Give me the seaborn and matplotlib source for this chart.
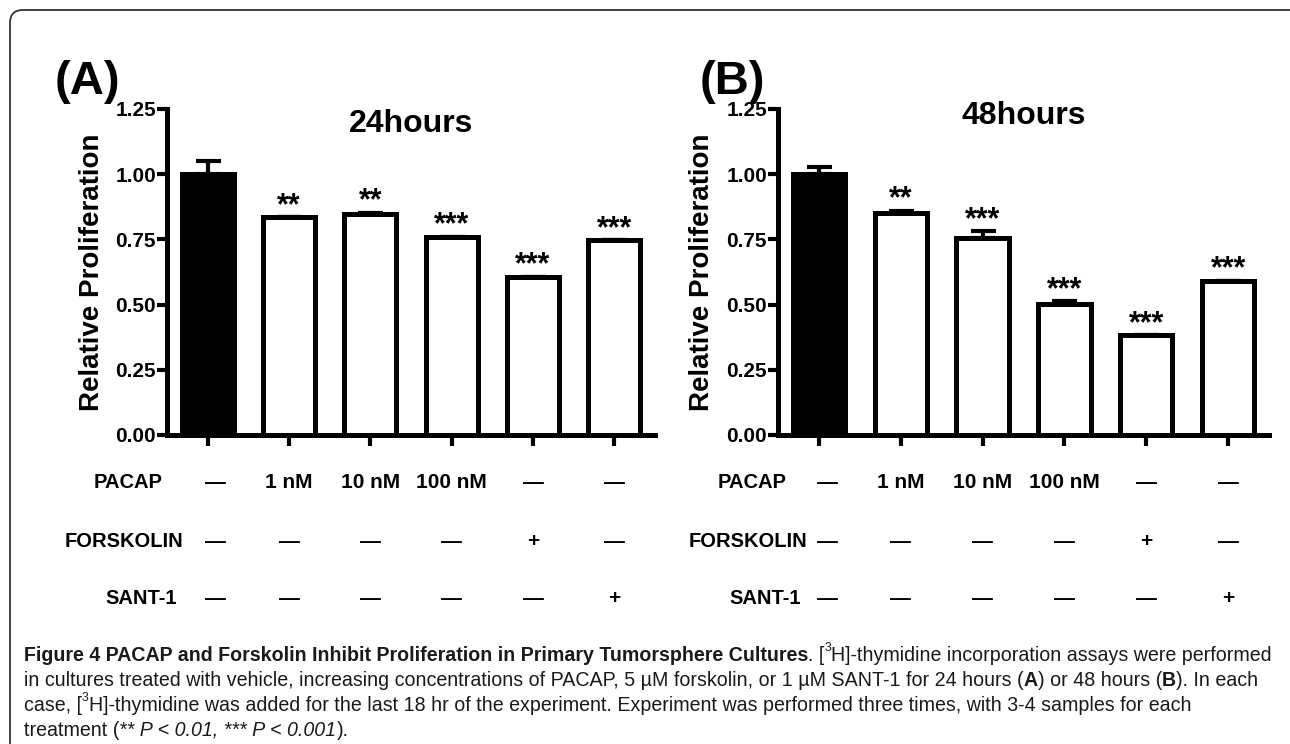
import numpy as np
import pandas as pd
import seaborn as sns
import matplotlib.pyplot as plt
from matplotlib.patches import FancyBboxPatch

# data
treatments = ["Vehicle", "PACAP 1 nM", "PACAP 10 nM", "PACAP 100 nM", "Forskolin", "SANT-1"]
prolif_24h = [1.00, 0.835, 0.847, 0.760, 0.607, 0.748]
err_24h = [0.050, 0.0, 0.005, 0.0, 0.0, 0.0]
stars_24h = ["", "**", "**", "***", "***", "***"]
prolif_48h = [1.00, 0.850, 0.755, 0.502, 0.382, 0.592]
err_48h = [0.027, 0.010, 0.027, 0.010, 0.0, 0.0]
stars_48h = ["", "**", "***", "***", "***", "***"]

row_names = ["PACAP", "FORSKOLIN", "SANT-1"]
pacap_row = ["\u2014", "1 nM", "10 nM", "100 nM", "\u2014", "\u2014"]
forskolin_row = ["\u2014", "\u2014", "\u2014", "\u2014", "+", "\u2014"]
sant_row = ["\u2014", "\u2014", "\u2014", "\u2014", "\u2014", "+"]

titles = ["24hours", "48hours"]
letters = ["(A)", "(B)"]
yticks = [0, 0.25, 0.5, 0.75, 1.0, 1.25]

caption = [
    [("Figure 4 PACAP and Forskolin Inhibit Proliferation in Primary Tumorsphere Cultures", "bold"),
     (". [", "reg"), ("3", "sup"), ("H]-thymidine incorporation assays were performed", "reg")],
    [("in cultures treated with vehicle, increasing concentrations of PACAP, 5 \u00b5M forskolin, or 1 \u00b5M SANT-1 for 24 hours (", "reg"),
     ("A", "bold"), (") or 48 hours (", "reg"), ("B", "bold"), ("). In each", "reg")],
    [("case, [", "reg"), ("3", "sup"),
     ("H]-thymidine was added for the last 18 hr of the experiment. Experiment was performed three times, with 3-4 samples for each", "reg")],
    [("treatment (", "reg"), ("** P < 0.01, *** P < 0.001", "italic"), (").", "reg")],
]

sns.set_theme(style="white")
plt.rcParams["font.family"] = ["Liberation Sans", "DejaVu Sans"]
plt.rcParams["text.color"] = "black"
plt.rcParams["axes.labelcolor"] = "black"

W, H = 1290, 744
fig = plt.figure(figsize=(W / 100, H / 100), dpi=100)

# frame around the figure (right side runs off the picture)
frame = FancyBboxPatch((0.10, -0.6), 12.96, 7.94, boxstyle="round,pad=0,rounding_size=0.13",
                       transform=fig.dpi_scale_trans, facecolor="none", edgecolor="#333333", linewidth=1.3)
fig.add_artist(frame)

ax_top = 109
ax_bot = 435
axA = fig.add_axes([167 / W, 1 - ax_bot / H, 488 / W, (ax_bot - ax_top) / H])
axB = fig.add_axes([778 / W, 1 - ax_bot / H, 491 / W, (ax_bot - ax_top) / H])

panels = [(axA, prolif_24h, err_24h, stars_24h), (axB, prolif_48h, err_48h, stars_48h)]
palette = {t: ("black" if i == 0 else "white") for i, t in enumerate(treatments)}
label_shift = [-0.08, 0.08]
title_y = [0.955, 0.98]

for k, (ax, vals, errs, stars) in enumerate(panels):
    df = pd.DataFrame({"treatment": treatments, "value": vals})
    sns.barplot(data=df, x="treatment", y="value", hue="treatment", palette=palette,
                edgecolor="black", linewidth=3.6, width=0.64, legend=False, ax=ax)
    ax.errorbar(np.arange(len(vals)), vals, yerr=[np.zeros(len(errs)), errs], fmt="none",
                ecolor="black", elinewidth=3, capsize=9, capthick=3)
    for i, (v, e, s) in enumerate(zip(vals, errs, stars)):
        if s:
            ax.text(i, v + e + 0.012, s, ha="center", va="baseline", fontsize=22,
                    fontweight="bold")

    ax.set_xlim(-0.5, 5.5)
    ax.set_ylim(0, 1.25)
    ax.set_yticks(yticks)
    ax.set_yticklabels([f"{t:.2f}" for t in yticks])
    ax.set_xticks(range(len(treatments)))
    ax.set_xticklabels([])
    ax.set_xlabel("")
    ax.set_ylabel("Relative Proliferation", fontsize=20, fontweight="bold")
    ax.yaxis.set_label_coords(-0.128, 0.5)
    sns.despine(ax=ax)
    for sp in ["left", "bottom"]:
        ax.spines[sp].set_linewidth(3.6)
        ax.spines[sp].set_color("black")
    ax.tick_params(axis="y", direction="out", length=7, width=3, pad=1, labelsize=15, colors="black", left=True)
    ax.tick_params(axis="x", direction="out", length=8, width=3, bottom=True, colors="black")
    for lab in ax.get_yticklabels():
        lab.set_fontweight("bold")

    ax.text(0.5, title_y[k], titles[k], transform=ax.transAxes, ha="center", va="center",
            fontsize=23, fontweight="bold")

    # treatment table under the axis
    tr = ax.get_xaxis_transform()
    rows = [pacap_row, forskolin_row, sant_row]
    row_y = [-0.146, -0.326, -0.503]
    name_x = [-0.47, -0.22, -0.30]
    for r, (cells, yy) in enumerate(zip(rows, row_y)):
        ax.text(name_x[r] + label_shift[k], yy, row_names[r], transform=tr, ha="right", va="center",
                fontsize=14.5, fontweight="bold", clip_on=False)
        for i, c in enumerate(cells):
            ax.text(i + (0.1 if i == 0 else 0), yy, c, transform=tr, ha="center", va="center",
                    fontsize=15, fontweight="bold", clip_on=False)

fig.text(55 / W, 1 - 94 / H, letters[0], fontsize=34, fontweight="bold", va="baseline")
fig.text(700 / W, 1 - 94 / H, letters[1], fontsize=34, fontweight="bold", va="baseline")

# caption with mixed styles; size fitted so the first line spans the width
renderer = fig.canvas.get_renderer()


def draw_line(runs, base, size, x0=24):
    x = x0
    made = []
    for txt, style in runs:
        kw = dict(fontsize=size)
        dy = 0
        if style == "bold":
            kw["fontweight"] = "bold"
        elif style == "italic":
            kw["fontstyle"] = "italic"
        elif style == "sup":
            kw["fontsize"] = size * 0.62
            dy = size * 0.5 * 100 / 72
        t = fig.text(x / W, 1 - (base - dy) / H, txt, ha="left", va="baseline", color="#1a1a1a", **kw)
        made.append(t)
        x += t.get_window_extent(renderer).width
    return x, made


end, tmp = draw_line(caption[0], 661, 15)
for t in tmp:
    t.remove()
cap_size = 15 * (1276 - 24) / (end - 24)

baselines = [661, 686, 711, 736]
for runs, base in zip(caption, baselines):
    draw_line(runs, base, cap_size)

fig.savefig("out.png", dpi=100)
